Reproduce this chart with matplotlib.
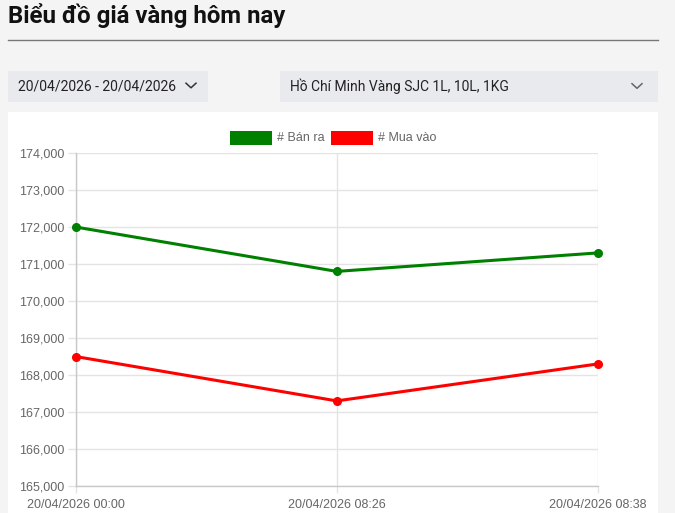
import matplotlib
matplotlib.use("Agg")
import matplotlib.pyplot as plt
from matplotlib.patches import Rectangle
from matplotlib.lines import Line2D

# ---- data ----
x_labels = ["20/04/2026 00:00", "20/04/2026 08:26", "20/04/2026 08:38"]
ban_ra = [172000, 170800, 171300]
mua_vao = [168500, 167300, 168300]
y_ticks = [165000, 166000, 167000, 168000, 169000, 170000, 171000, 172000, 173000, 174000]
title_text = "Biểu đồ giá vàng hôm nay"
date_range = "20/04/2026 - 20/04/2026"
product = "Hồ Chí Minh Vàng SJC 1L, 10L, 1KG"
series_names = ["# Bán ra", "# Mua vào"]

W, H = 675, 513
plt.rcParams['font.family'] = ['Roboto', 'DejaVu Sans']
CHART_FONT = ['Liberation Sans', 'DejaVu Sans']
fig = plt.figure(figsize=(W / 100, H / 100), dpi=100)
fig.patch.set_facecolor("#f4f4f4")

def fx(px):
    return px / W

def fy(py):
    return 1 - py / H

def rect(x0, y0, x1, y1, color, z=-5):
    fig.add_artist(Rectangle((fx(x0), fy(y1)), fx(x1) - fx(x0), fy(y0) - fy(y1),
                             transform=fig.transFigure, facecolor=color,
                             edgecolor="none", zorder=z))

# title
fig.text(fx(8), fy(16), title_text, fontsize=17.3, fontweight="bold",
         color="#111111", va="center", ha="left")
fig.add_artist(Line2D([fx(8), fx(658)], [fy(40), fy(40)], transform=fig.transFigure,
                      color="#777777", lw=1))

# dropdowns
rect(8, 71, 208, 102, "#e9eaee")
rect(280, 71, 658, 102, "#e9eaee")
fig.text(fx(18), fy(86.5), date_range, fontsize=10, color="#222222", va="center", ha="left")
fig.text(fx(290), fy(86.5), product, fontsize=10, color="#222222", va="center", ha="left")

def chevron(cx, cy, col):
    fig.add_artist(Line2D([fx(cx - 5), fx(cx), fx(cx + 5)],
                          [fy(cy - 2.3), fy(cy + 2.3), fy(cy - 2.3)],
                          transform=fig.transFigure, color=col, lw=1.1))

chevron(191, 85.5, "#333333")
chevron(637, 86, "#666666")

# white chart card
rect(8, 112, 658, 513, "#ffffff", z=-4)

# chart axes
ax_l, ax_r, ax_t, ax_b = 75.5, 598, 153, 486
ax = fig.add_axes([fx(ax_l), fy(ax_b), fx(ax_r) - fx(ax_l), fy(ax_t) - fy(ax_b)])
ax.set_zorder(2)
ax.patch.set_alpha(0)
xs = list(range(len(x_labels)))
ax.plot(xs, ban_ra, color="#008000", lw=2.2, marker="o", markersize=5.5, zorder=3, clip_on=False)
ax.plot(xs, mua_vao, color="#ff0000", lw=2.2, marker="o", markersize=5.5, zorder=3, clip_on=False)
ax.set_xlim(0, len(x_labels) - 1)
ax.set_ylim(y_ticks[0], y_ticks[-1])
ax.set_yticks(y_ticks)
ax.set_yticklabels([f"{v:,}" for v in y_ticks], family=CHART_FONT)
ax.set_xticks(xs)
ax.set_xticklabels(x_labels, family=CHART_FONT)
ax.grid(True, color="#e4e4e4", lw=1)
ax.set_axisbelow(True)
for s in ["top", "right"]:
    ax.spines[s].set_visible(False)
for s in ["left", "bottom"]:
    ax.spines[s].set_color("#c8c8c8")
    ax.spines[s].set_linewidth(1)
ax.tick_params(axis="both", colors="#e4e4e4", labelcolor="#666666", labelsize=9,
               length=6, width=1)
ax.tick_params(axis="x", pad=4, length=5)
ax.tick_params(axis="y", pad=2)

# legend
rect(230, 131, 272, 145, "#008000", z=1)
fig.text(fx(277), fy(137.5), series_names[0], fontsize=9, color="#666666", va="center",
         ha="left", family=CHART_FONT)
rect(331, 131, 373, 145, "#ff0000", z=1)
fig.text(fx(378), fy(137.5), series_names[1], fontsize=9, color="#666666", va="center",
         ha="left", family=CHART_FONT)

fig.savefig("out.png", dpi=100, facecolor=fig.get_facecolor())
